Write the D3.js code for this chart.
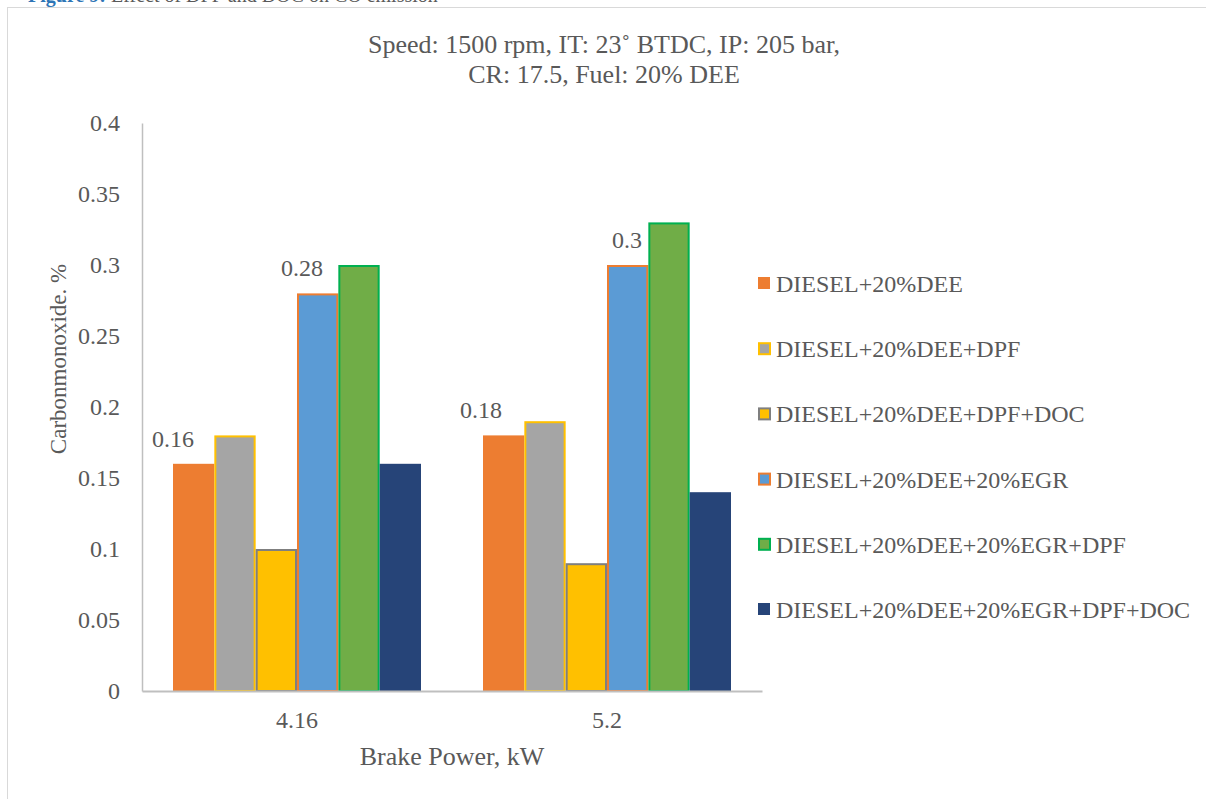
<!DOCTYPE html>
<html>
<head>
  <title>CO emission chart</title>
  <script src="https://d3js.org/d3.v7.min.js"></script>
  <style>
    * { margin: 0; box-sizing: border-box; }
    body { background: #fff; }
  </style>
</head>
<body>
  <script>
    const categories = ["4.16", "5.2"];
    const seriesNames = [
      "DIESEL+20%DEE",
      "DIESEL+20%DEE+DPF",
      "DIESEL+20%DEE+DPF+DOC",
      "DIESEL+20%DEE+20%EGR",
      "DIESEL+20%DEE+20%EGR+DPF",
      "DIESEL+20%DEE+20%EGR+DPF+DOC"
    ];
    // values[series][category]
    const values = [
      [0.16, 0.18],
      [0.18, 0.19],
      [0.10, 0.09],
      [0.28, 0.30],
      [0.30, 0.33],
      [0.16, 0.14]
    ];
    const yTicks = [0, 0.05, 0.1, 0.15, 0.2, 0.25, 0.3, 0.35, 0.4];
    const labelledSeries = [0, 3];

    const fills = ["#ED7D31", "#A5A5A5", "#FFC000", "#5B9BD5", "#70AD47", "#264478"];
    const strokes = [null, "#FFC000", "#7F7F7F", "#ED7D31", "#00B050", null];

    const FONT = "'Liberation Serif', 'Times New Roman', serif";
    const INK = "#595959";

    const width = 1206, height = 799;
    const plot = { left: 142, right: 762, top: 123, bottom: 691 };

    const svg = d3.select("body").append("svg")
      .attr("width", width)
      .attr("height", height);

    // caption of the page, cut off above the chart
    const cap = svg.append("text")
      .attr("x", 28).attr("y", 2)
      .style("font-family", FONT)
      .style("font-size", "20px")
      .style("fill", INK);
    cap.append("tspan").style("fill", "#2E75B6").style("font-weight", "bold").text("Figure 9:");
    cap.append("tspan").text(" Effect of DPF and DOC on CO emission");

    // chart frame
    svg.append("rect")
      .attr("x", 7.5).attr("y", 7.5)
      .attr("width", width + 20).attr("height", height + 20)
      .attr("fill", "none")
      .attr("stroke", "#D9D9D9");

    const x = d3.scaleBand()
      .domain(categories)
      .range([plot.left, plot.right])
      .paddingInner(0.2)
      .paddingOuter(0.1);

    const xs = d3.scaleBand()
      .domain(d3.range(seriesNames.length))
      .range([0, x.bandwidth()]);

    const y = d3.scaleLinear()
      .domain([0, 0.4])
      .range([plot.bottom, plot.top]);

    // bars
    seriesNames.forEach((name, s) => {
      const inset = strokes[s] ? 1 : 0;
      svg.append("g").selectAll("rect")
        .data(categories)
        .enter().append("rect")
        .attr("x", (c) => x(c) + xs(s) + inset)
        .attr("y", (c, i) => y(values[s][i]) + inset)
        .attr("width", xs.bandwidth() - 2 * inset)
        .attr("height", (c, i) => y(0) - y(values[s][i]) - inset)
        .attr("fill", fills[s])
        .attr("stroke", strokes[s] || "none")
        .attr("stroke-width", 2);
    });

    // data labels (only two series carry labels in the original)
    const labelShift = [[0, -2], null, null, [5, 20]];
    labelledSeries.forEach((s) => {
      svg.append("g").selectAll("text")
        .data(categories)
        .enter().append("text")
        .attr("x", (c, i) => x(c) + xs(s) + labelShift[s][i])
        .attr("y", (c, i) => y(values[s][i]) - 17)
        .attr("text-anchor", "middle")
        .style("font-family", FONT)
        .style("font-size", "24px")
        .style("fill", INK)
        .text((c, i) => values[s][i]);
    });

    // y axis
    const yAxis = d3.axisLeft(y)
      .tickValues(yTicks)
      .tickSize(0)
      .tickPadding(22)
      .tickFormat((d) => String(+d.toFixed(2)));
    const yg = svg.append("g")
      .attr("transform", `translate(${plot.left},0)`)
      .call(yAxis);
    yg.select(".domain").attr("stroke", "#BFBFBF").attr("stroke-width", 1.5);
    yg.selectAll("text")
      .style("font-size", "24px")
      .style("font-family", FONT)
      .attr("fill", INK);

    // x axis
    const xAxis = d3.axisBottom(x).tickSize(0).tickPadding(20);
    const xg = svg.append("g")
      .attr("transform", `translate(0,${plot.bottom})`)
      .call(xAxis);
    xg.select(".domain").attr("stroke", "#BFBFBF").attr("stroke-width", 2);
    xg.selectAll("text")
      .style("font-size", "24px")
      .style("font-family", FONT)
      .attr("fill", INK);

    // axis titles
    svg.append("text")
      .attr("x", 452).attr("y", 765)
      .attr("text-anchor", "middle")
      .style("font-family", FONT)
      .style("font-size", "26px")
      .style("fill", INK)
      .text("Brake Power, kW");

    svg.append("text")
      .attr("transform", "translate(66,359) rotate(-90)")
      .attr("text-anchor", "middle")
      .style("font-family", FONT)
      .style("font-size", "23px")
      .style("fill", INK)
      .text("Carbonmonoxide. %");

    // title
    const title = svg.append("text")
      .attr("text-anchor", "middle")
      .style("font-family", FONT)
      .style("font-size", "26px")
      .style("fill", INK);
    title.append("tspan").attr("x", 604).attr("y", 53)
      .text("Speed: 1500 rpm, IT: 23˚ BTDC, IP: 205 bar,");
    title.append("tspan").attr("x", 604).attr("y", 83)
      .text("CR: 17.5, Fuel: 20% DEE");

    // legend
    const legend = svg.append("g")
      .attr("transform", "translate(758,283)");
    const rows = legend.selectAll("g")
      .data(seriesNames)
      .enter().append("g")
      .attr("transform", (d, i) => `translate(0,${i * 65.2})`);
    rows.append("rect")
      .attr("x", (d, i) => strokes[i] ? 1 : 0)
      .attr("y", (d, i) => -6 + (strokes[i] ? 1 : 0))
      .attr("width", (d, i) => strokes[i] ? 11 : 12)
      .attr("height", (d, i) => strokes[i] ? 11 : 12)
      .attr("fill", (d, i) => fills[i])
      .attr("stroke", (d, i) => strokes[i] || "none")
      .attr("stroke-width", 2);
    rows.append("text")
      .attr("x", 18)
      .attr("y", 9)
      .style("font-family", FONT)
      .style("font-size", "24px")
      .style("fill", INK)
      .text((d) => d);
  </script>
</body>
</html>
